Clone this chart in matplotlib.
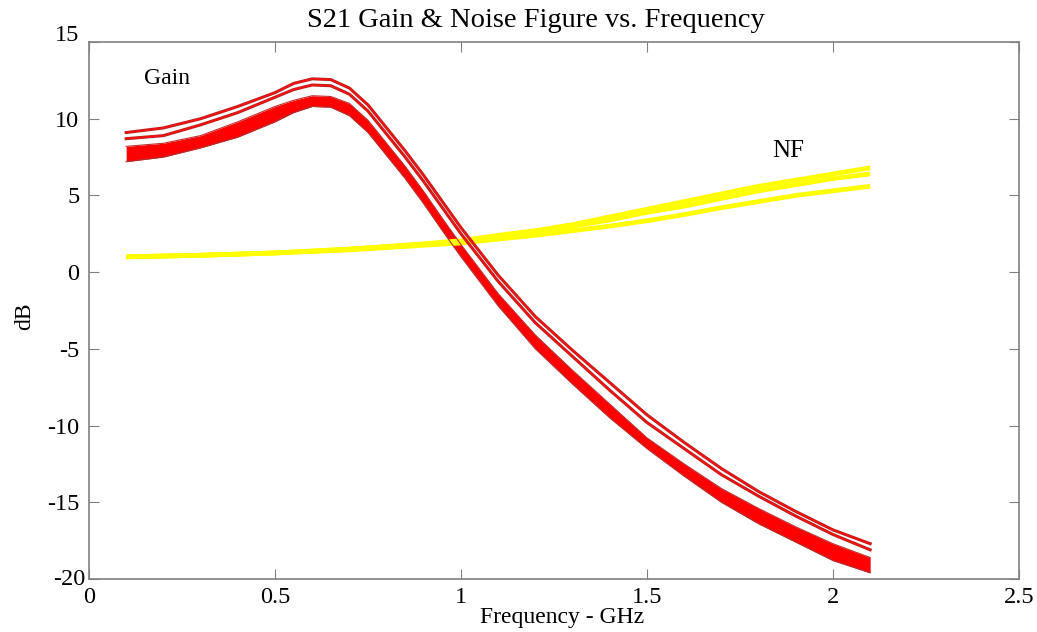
import numpy as np
import matplotlib
matplotlib.use('Agg')
import matplotlib.pyplot as plt
import matplotlib.transforms as mtransforms

# gain (S21) monte carlo bundle, dB
freq = [0.1, 0.2, 0.3, 0.4, 0.5, 0.55, 0.6, 0.65, 0.7, 0.75, 0.8, 0.85, 0.9,
        0.95, 1.0, 1.1, 1.2, 1.3, 1.4, 1.5, 1.6, 1.7, 1.8, 1.9, 2.0, 2.1]
gain_band_top = [8.2, 8.4, 8.9, 9.8, 10.8, 11.2, 11.5, 11.45, 11.0, 9.9, 8.4, 6.9, 5.25,
                 3.5, 1.8, -1.4, -4.1, -6.4, -8.6, -10.8, -12.5, -14.1, -15.4, -16.6, -17.7, -18.6]
gain_band_bot = [7.2, 7.5, 8.1, 8.8, 9.8, 10.4, 10.8, 10.75, 10.2, 9.1, 7.6, 6.1, 4.45,
                 2.7, 1.0, -2.2, -5.0, -7.3, -9.5, -11.5, -13.3, -15.0, -16.4, -17.6, -18.8, -19.6]
gain_hi_a = [9.1, 9.4, 10.0, 10.8, 11.7, 12.3, 12.6, 12.55, 12.0, 10.9, 9.4, 7.9, 6.3,
             4.6, 2.9, -0.2, -2.9, -5.1, -7.2, -9.3, -11.1, -12.8, -14.3, -15.6, -16.8, -17.7]
gain_hi_b = [8.7, 8.9, 9.6, 10.4, 11.4, 11.9, 12.2, 12.15, 11.6, 10.5, 9.0, 7.5, 5.9,
             4.2, 2.5, -0.6, -3.3, -5.5, -7.7, -9.8, -11.5, -13.2, -14.6, -15.9, -17.1, -18.1]

# noise figure curves, dB
nf_freq = [0.1, 0.3, 0.5, 0.7, 0.9, 1.0, 1.1, 1.2, 1.3, 1.4, 1.5,
           1.6, 1.7, 1.8, 1.9, 2.0, 2.1]
nf_hi = [1.0, 1.1, 1.25, 1.5, 1.85, 2.05, 2.4, 2.7, 3.1, 3.6, 4.1,
         4.6, 5.1, 5.6, 6.0, 6.4, 6.8]
nf_mid = [1.0, 1.1, 1.25, 1.5, 1.8, 2.0, 2.3, 2.6, 3.0, 3.4, 3.9,
          4.3, 4.8, 5.3, 5.7, 6.1, 6.4]
nf_lo = [1.0, 1.1, 1.25, 1.45, 1.75, 1.9, 2.15, 2.4, 2.7, 3.0, 3.35,
         3.75, 4.2, 4.6, 5.0, 5.3, 5.6]

xticks = [0, 0.5, 1, 1.5, 2, 2.5]
xticklabels = ['0', '0.5', '1', '1.5', '2', '2.5']
yticks = [-20, -15, -10, -5, 0, 5, 10, 15]

plt.rcParams['font.family'] = ['Liberation Serif', 'DejaVu Serif']
plt.rcParams['axes.unicode_minus'] = False

fig = plt.figure(figsize=(10.37, 6.32), dpi=100)
ax = fig.add_axes([0.0858, 0.0839, 0.8968, 0.8496])

# yellow NF bundle
for y in (nf_lo, nf_mid, nf_hi):
    ax.plot(nf_freq, y, color='#ffff00', lw=3.4, solid_capstyle='butt')

# red gain bundle
ax.fill_between(freq, gain_band_bot, gain_band_top, color='#ff0000', lw=0)
ax.plot(freq, gain_band_top, color='#c03030', lw=0.8)
ax.plot(freq, gain_band_bot, color='#b03030', lw=0.8)
for y in (gain_hi_a, gain_hi_b):
    ax.plot(freq, y, color='#b82020', lw=2.2)
    ax.plot(freq, y, color='#ff1010', lw=1.0)

ax.text(0.21, 12.6, 'Gain', fontsize=17, ha='center', va='center')
ax.text(1.88, 7.9, 'NF', fontsize=18, ha='center', va='center')

ax.set_xlim(0, 2.5)
ax.set_ylim(-20, 15)
ax.set_xticks(xticks)
ax.set_xticklabels(xticklabels)
ax.set_yticks(yticks)
ax.tick_params(direction='in', length=7, color='#808080', labelsize=17.5,
               top=True, right=True)
ax.tick_params(axis='x', pad=5.5)
ax.tick_params(axis='y', pad=7)
for s in ax.spines.values():
    s.set_color('#808080')
    s.set_linewidth(1.2)

# the end labels sit a little off their ticks in the original
yt = ax.yaxis.get_major_ticks()
yt[0].label1.set_transform(yt[0].label1.get_transform() +
                           mtransforms.ScaledTranslation(6/100, 2/100, fig.dpi_scale_trans))
yt[-1].label1.set_transform(yt[-1].label1.get_transform() +
                            mtransforms.ScaledTranslation(0, 9/100, fig.dpi_scale_trans))

ax.set_xlabel('Frequency - GHz', fontsize=17)
ax.xaxis.set_label_coords(0.509, -0.052)
ax.set_ylabel('dB', fontsize=17)
ax.yaxis.set_label_coords(-0.058, 0.49)
fig.text(0.517, 0.967, 'S21 Gain & Noise Figure vs. Frequency', fontsize=20.5,
         ha='center', va='center')

plt.savefig('out.png', dpi=100)
